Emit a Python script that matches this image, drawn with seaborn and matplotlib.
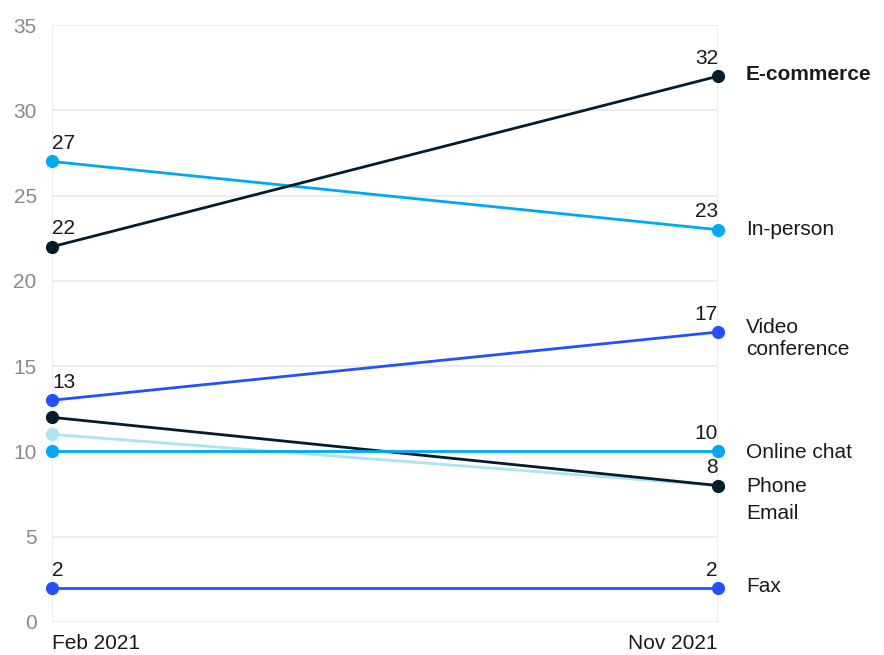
import pandas as pd
import matplotlib.pyplot as plt
import seaborn as sns

# -------------------------------
# DATA
# -------------------------------
periods = ["Feb 2021", "Nov 2021"]
channels = ["Email", "Phone", "Online chat", "Fax", "Video conference", "In-person", "E-commerce"]
feb = [11, 12, 10, 2, 13, 27, 22]
nov = [8, 8, 10, 2, 17, 23, 32]
label_feb = [False, False, False, True, True, True, True]
label_nov = [False, True, True, True, True, True, True]
names = ["Email", "Phone", "Online chat", "Fax", "Video\nconference", "In-person", "E-commerce"]
yticks = [0, 5, 10, 15, 20, 25, 30, 35]

colors = {
    "E-commerce": "#051c2c",
    "In-person": "#00a9f4",
    "Video conference": "#2251ff",
    "Online chat": "#00a9f4",
    "Phone": "#051c2c",
    "Email": "#aae6f0",
    "Fax": "#2251ff",
}

rows = []
for c, a, b in zip(channels, feb, nov):
    rows.append({"channel": c, "x": 0, "value": a})
    rows.append({"channel": c, "x": 1, "value": b})
df = pd.DataFrame(rows)

# -------------------------------
# PLOT
# -------------------------------
sns.set_style("whitegrid", {"grid.color": "#ebebeb", "axes.edgecolor": "white"})
plt.rcParams["font.family"] = ["Liberation Sans", "DejaVu Sans"]

fig = plt.figure(figsize=(8.84, 6.55), dpi=100)
ax = fig.add_axes([0.0588, 0.0504, 0.8122 - 0.0588, 0.9618 - 0.0504])

sns.lineplot(data=df, x="x", y="value", hue="channel", hue_order=channels,
             palette=colors, marker="o", markersize=9.5, markeredgewidth=0,
             linewidth=2.0, legend=False, ax=ax, clip_on=False)

ax.set_xlim(0, 1)
ax.set_ylim(0, 35)
ax.set_yticks(yticks)
ax.set_xticks([0, 1])
ax.set_xticklabels(periods)
ax.get_xticklabels()[0].set_horizontalalignment("left")
ax.get_xticklabels()[1].set_horizontalalignment("right")
ax.tick_params(axis="y", length=0, pad=11, labelsize=15, labelcolor="#8a8a8a")
ax.tick_params(axis="x", length=0, pad=9, labelsize=15, labelcolor="#1a1a1a")
ax.grid(linewidth=1.3)
ax.set_xlabel("")
ax.set_ylabel("")
for s in ax.spines.values():
    s.set_visible(False)

# value labels
for c, a, b, la, lb in zip(channels, feb, nov, label_feb, label_nov):
    if la:
        ax.annotate(str(a), (0, a), xytext=(0, 6), textcoords="offset points",
                    ha="left", va="bottom", fontsize=15, color="#1a1a1a")
    if lb:
        ax.annotate(str(b), (1, b), xytext=(0, 6), textcoords="offset points",
                    ha="right", va="bottom", fontsize=15, color="#1a1a1a")

# series names on the right
name_offset = {"Email": -20, "Video conference": -5, "Phone": -1,
               "Fax": 1, "Online chat": -1, "E-commerce": 1}
for c, b, n in zip(channels, nov, names):
    ax.annotate(n, (1, b), xytext=(20, name_offset.get(c, 0)), textcoords="offset points",
                ha="left", va="center", fontsize=15, color="#1a1a1a",
                fontweight="bold" if c == "E-commerce" else "normal",
                annotation_clip=False)

plt.savefig("out.png", dpi=100)
